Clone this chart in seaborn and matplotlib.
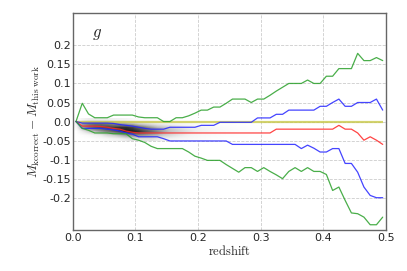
import numpy as np
import pandas as pd
import seaborn as sns
import matplotlib
import matplotlib.pyplot as plt

matplotlib.use('Agg')

# bin centres in redshift
z = np.round(np.arange(0.005, 0.5, 0.01), 3)

green_hi = [0.0, 0.048, 0.02, 0.01, 0.01, 0.01, 0.017, 0.017, 0.017, 0.017,
            0.012, 0.01, 0.01, 0.01, 0.0, 0.0, 0.01, 0.01, 0.015, 0.022,
            0.03, 0.03, 0.038, 0.038, 0.048, 0.059, 0.059, 0.059, 0.05, 0.059,
            0.059, 0.069, 0.08, 0.09, 0.1, 0.1, 0.1, 0.109, 0.1, 0.1,
            0.119, 0.119, 0.139, 0.139, 0.139, 0.179, 0.16, 0.16, 0.168, 0.16]
blue_hi = [0.0, -0.004, -0.004, -0.004, -0.004, -0.004, -0.005, -0.008, -0.01, -0.012,
           -0.015, -0.018, -0.02, -0.02, -0.02, -0.015, -0.015, -0.015, -0.015, -0.015,
           -0.01, -0.01, -0.01, -0.002, -0.002, -0.002, -0.002, -0.002, -0.002, 0.0095,
           0.0095, 0.0095, 0.019, 0.019, 0.03, 0.03, 0.03, 0.03, 0.03, 0.04,
           0.04, 0.05, 0.059, 0.04, 0.04, 0.05, 0.05, 0.05, 0.059, 0.03]
red_mid = [0.0, -0.012, -0.012, -0.012, -0.013, -0.015, -0.018, -0.02, -0.025, -0.028,
           -0.03, -0.03, -0.03, -0.03, -0.03, -0.03, -0.03, -0.03, -0.03, -0.03,
           -0.03, -0.03, -0.03, -0.03, -0.03, -0.03, -0.03, -0.03, -0.03, -0.03,
           -0.03, -0.03, -0.02, -0.02, -0.02, -0.02, -0.02, -0.02, -0.02, -0.02,
           -0.02, -0.02, -0.01, -0.02, -0.02, -0.03, -0.049, -0.04, -0.049, -0.06]
blue_lo = [0.0, -0.018, -0.018, -0.018, -0.018, -0.02, -0.022, -0.025, -0.03, -0.033,
           -0.04, -0.04, -0.04, -0.04, -0.045, -0.051, -0.051, -0.051, -0.051, -0.051,
           -0.051, -0.051, -0.051, -0.051, -0.051, -0.06, -0.06, -0.06, -0.06, -0.06,
           -0.06, -0.06, -0.06, -0.06, -0.06, -0.06, -0.071, -0.062, -0.07, -0.08,
           -0.08, -0.071, -0.071, -0.11, -0.11, -0.133, -0.172, -0.194, -0.2, -0.2]
green_lo = [0.0, -0.018, -0.023, -0.03, -0.03, -0.03, -0.032, -0.032, -0.032, -0.045,
            -0.049, -0.055, -0.065, -0.071, -0.071, -0.071, -0.071, -0.071, -0.08, -0.091,
            -0.096, -0.102, -0.102, -0.102, -0.113, -0.123, -0.133, -0.121, -0.121, -0.131,
            -0.121, -0.131, -0.14, -0.15, -0.131, -0.121, -0.131, -0.121, -0.131, -0.131,
            -0.139, -0.181, -0.172, -0.207, -0.24, -0.242, -0.251, -0.271, -0.271, -0.251]
yellow_level = -0.001

# background density (rows: offset bins from +0.01 down to -0.05, cols: z bins 0-0.3)
dens_edges_v = (-0.05, 0.01)
dens_edges_z = (0.0, 0.3)
density = [
    [0, .1, .15, .15, .15, .15, .12, .1, .08, .05, .03, .02, .02, .01, .01,
     0, 0, 0, 0, 0, 0, 0, 0, 0, 0, 0, 0, 0, 0, 0],
    [.1, .5, .6, .65, .65, .6, .55, .5, .45, .4, .3, .25, .2, .15, .12,
     .1, .08, .06, .05, .04, .03, .02, .02, .01, .01, .01, 0, 0, 0, 0],
    [.05, .45, .6, .7, .75, .8, .8, .85, .85, .8, .7, .6, .5, .4, .35,
     .3, .25, .2, .15, .12, .1, .08, .06, .05, .04, .03, .02, .02, .01, .01],
    [0, .15, .3, .4, .5, .6, .7, .8, .9, .9, .85, .75, .65, .55, .45,
     .35, .3, .25, .2, .15, .12, .1, .08, .06, .05, .04, .03, .02, .02, .01],
    [0, .02, .05, .1, .15, .25, .3, .4, .5, .55, .55, .5, .45, .4, .3,
     .25, .2, .15, .1, .08, .06, .05, .04, .03, .02, .02, .01, .01, 0, 0],
    [0, 0, 0, .02, .03, .05, .08, .1, .15, .2, .2, .2, .2, .15, .12,
     .1, .08, .06, .05, .04, .03, .02, .01, .01, 0, 0, 0, 0, 0, 0],
]

yticks = [0.2, 0.15, 0.1, 0.05, 0.0, -0.05, -0.1, -0.15, -0.2]
ytick_labels = ["0.2", "0.15", "0.1", "0.05", "0.0", "-0.05", "-0.1", "-0.15", "-0.2"]
xticks = [0.0, 0.1, 0.2, 0.3, 0.4, 0.5]
xtick_labels = ["0.0", "0.1", "0.2", "0.3", "0.4", "0.5"]

sns.set_style("white")
plt.rcParams['font.family'] = ['DejaVu Sans']
plt.rcParams['mathtext.fontset'] = 'cm'

fig = plt.figure(figsize=(4.07, 2.71), dpi=100)
ax = fig.add_axes([0.179, 0.151, 0.769, 0.801])

ax.imshow(np.array(density), cmap="Greys", vmin=0, vmax=1, aspect="auto",
          interpolation="bilinear", origin="upper",
          extent=[dens_edges_z[0], dens_edges_z[1], dens_edges_v[0], dens_edges_v[1]],
          zorder=1)

lines = pd.DataFrame({
    "z": np.tile(z, 5),
    "offset": green_hi + blue_hi + red_mid + blue_lo + green_lo,
    "curve": np.repeat(["green_hi", "blue_hi", "red_mid", "blue_lo", "green_lo"], len(z)),
})
palette = {"green_hi": "#2aa02a", "blue_hi": "#2424ff", "red_mid": "#ff2424",
           "blue_lo": "#2424ff", "green_lo": "#2aa02a"}

ax.hlines(yellow_level, z[0], z[-1], color="#c8c84a", lw=1.6, alpha=0.8, zorder=2)
sns.lineplot(data=lines, x="z", y="offset", hue="curve", palette=palette,
             lw=0.9, alpha=0.85, legend=False, ax=ax, zorder=3)

ax.set_xlim(0, 0.5)
ax.set_ylim(-0.285, 0.285)
ax.set_xticks(xticks)
ax.set_xticklabels(xtick_labels)
ax.set_yticks(yticks)
ax.set_yticklabels(ytick_labels)
ax.tick_params(axis="y", length=0, labelsize=8, pad=1.5)
ax.tick_params(axis="x", length=0, labelsize=8, pad=2)
ax.grid(True, ls="--", color="#cccccc", lw=0.6)
for sp in ax.spines.values():
    sp.set_color("#666666")
    sp.set_linewidth(1.0)

ax.set_xlabel(r"$\rm redshift$", fontsize=9, labelpad=1)
ax.set_ylabel(r"$M_{\rm kcorrect} - M_{\rm this\ work}$", fontsize=9.5, labelpad=0)
ax.text(0.06, 0.89, r"$g$", transform=ax.transAxes, fontsize=12)

fig.savefig("out.png", dpi=100)
